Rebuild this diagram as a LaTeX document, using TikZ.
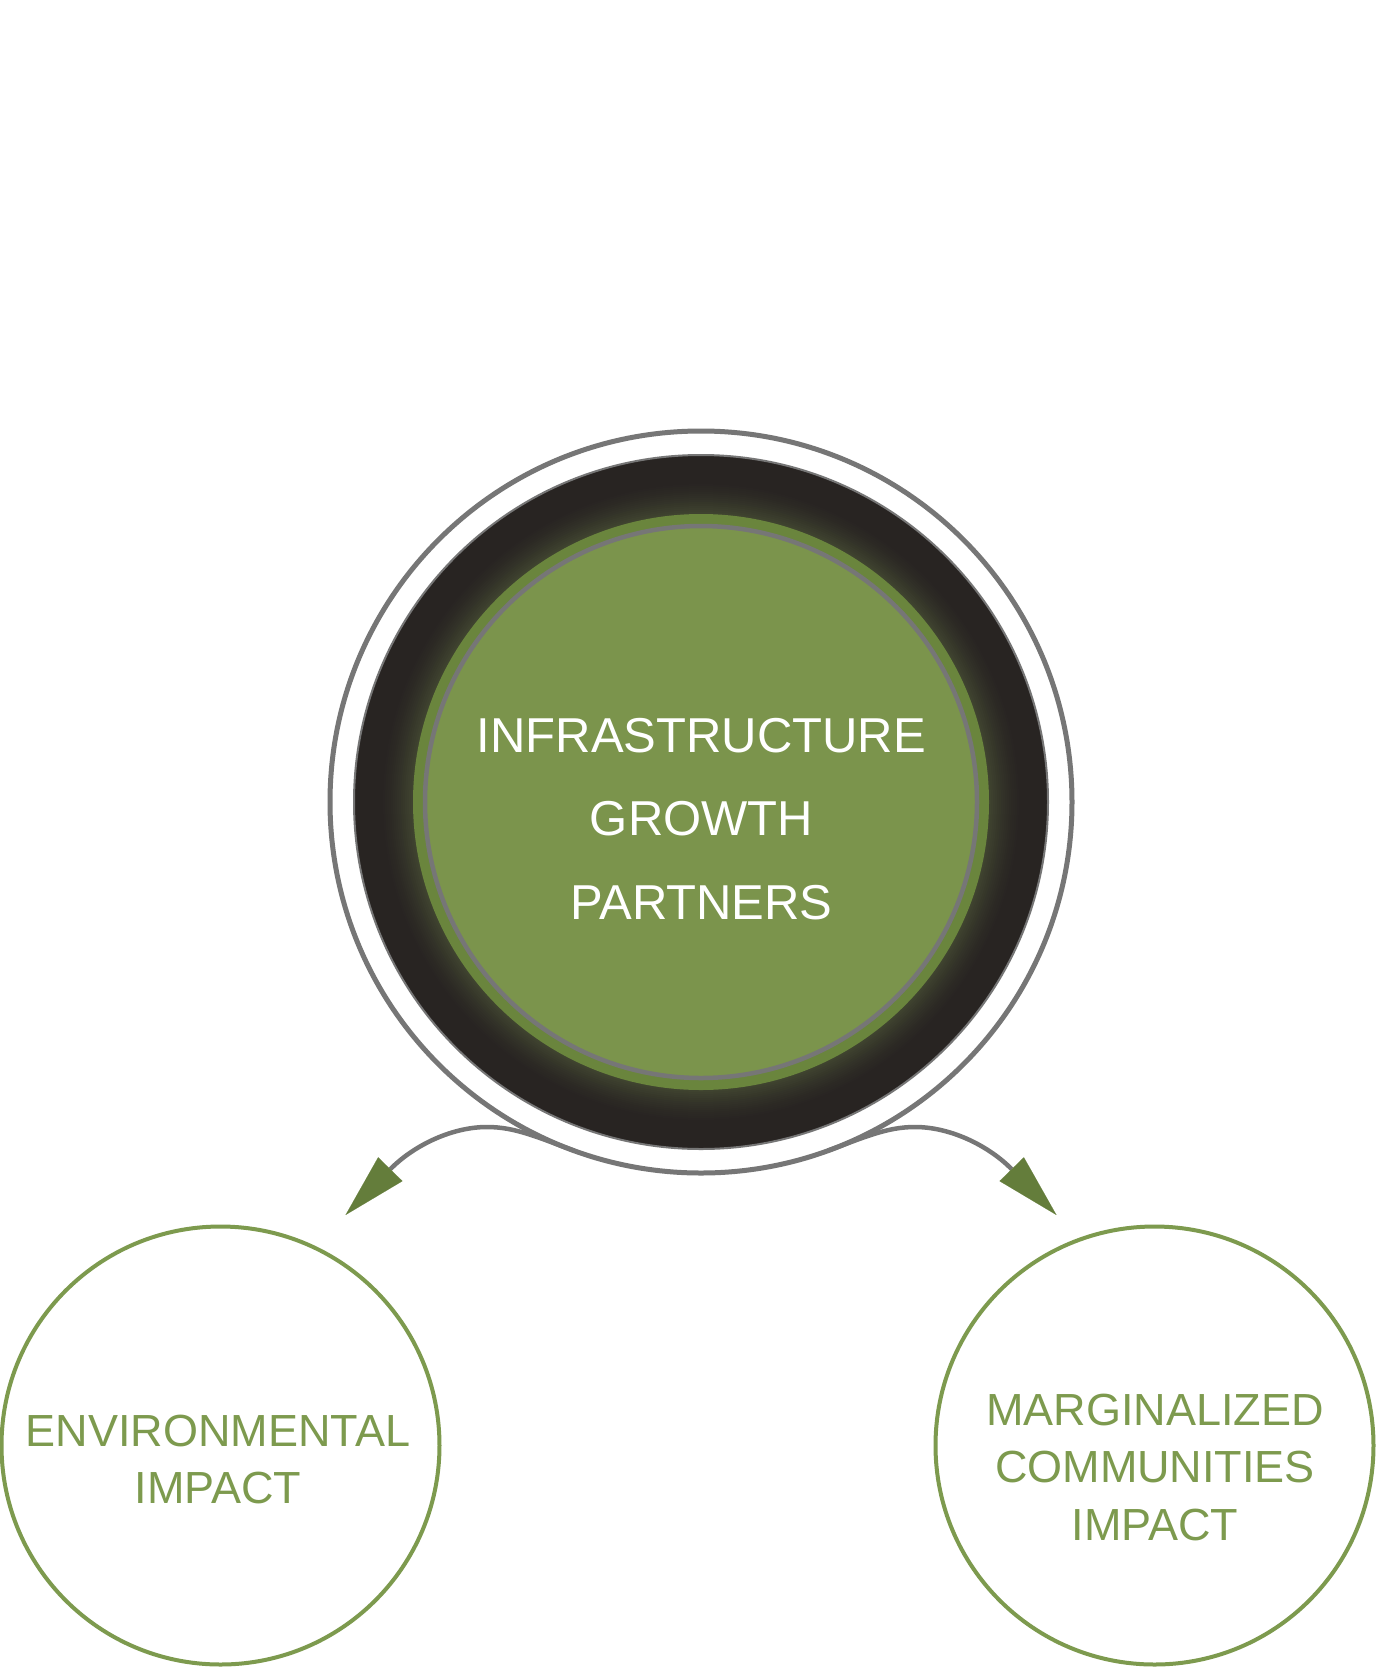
\documentclass[tikz,border=0pt]{standalone}
\usepackage{fontspec}
\setmainfont{Liberation Sans}
\usetikzlibrary{arrows.meta}
\definecolor{ringgray}{HTML}{767676}
\definecolor{darkbg}{HTML}{282422}
\definecolor{glowgreen}{HTML}{3F432F}
\definecolor{greenouter}{HTML}{6A853D}
\definecolor{greeninner}{HTML}{7B944C}
\definecolor{ltgreen}{HTML}{7D9A4E}
\definecolor{arrowgreen}{HTML}{647D3B}
\begin{document}
\begin{tikzpicture}[x=1pt,y=-1pt,
  hubring/.style={circle, minimum size=742pt, inner sep=0pt, outer sep=0pt, draw=ringgray, line width=5pt},
  hubtext/.style={text=white, align=center, inner sep=0pt, font=\fontsize{49pt}{83.5pt}\selectfont},
  impact/.style={circle, minimum size=438pt, inner sep=0pt, outer sep=0pt, draw=ltgreen, line width=4pt},
  impacttext/.style={text=ltgreen, align=center, inner sep=0pt, font=\fontsize{45pt}{57.5pt}\selectfont},
  conn/.style={draw=ringgray, line width=4.5pt, shorten >=-64pt,
    -{Triangle[length=64pt, width=34pt, color=arrowgreen, line width=0.1pt]}}
]
\useasboundingbox[fill=white] (0,0) rectangle (1376,1668);
% central layered disc with green glow
\fill[darkbg] (701,802) circle[radius=347pt];
\foreach \i in {0,...,16}{
  \pgfmathsetmacro\rr{322-2*\i}
  \pgfmathsetmacro\pp{100*(\i/16)^1.5}
  \fill[glowgreen!\pp!darkbg] (701,802) circle[radius=\rr pt];
}
\draw[ringgray, line width=2pt] (701,802) circle[radius=347pt];
\fill[greenouter] (701,802) circle[radius=288pt];
\draw[ringgray, line width=4.5pt, fill=greeninner] (701,802) circle[radius=276pt];
\node[hubring] (hub) at (701,802) {};
\node[hubtext] (hubtxt) at (701.5,819) {INFRASTRUCTURE\\GROWTH\\PARTNERS};
% impact circles
\node[impact] (env) at (220.5,1445.5) {};
\node[impacttext] (envtxt) at (218,1459.5) {ENVIRONMENTAL\\IMPACT};
\node[impact] (marg) at (1154.5,1445.5) {};
\node[impacttext] (margtxt) at (1155,1467) {MARGINALIZED\\COMMUNITIES\\IMPACT};
% connectors
\coordinate (baseL) at (390.3,1169.2);
\coordinate (baseR) at (1011.7,1169.2);
\draw[conn] (hub.250) .. controls (536.5,1136.9) and (515,1127) .. (487,1127)
  .. controls (450,1127) and (412,1147) .. (baseL);
\draw[conn] (hub.290) .. controls (865.5,1136.9) and (887,1127) .. (915,1127)
  .. controls (952,1127) and (990,1147) .. (baseR);
\end{tikzpicture}
\end{document}
